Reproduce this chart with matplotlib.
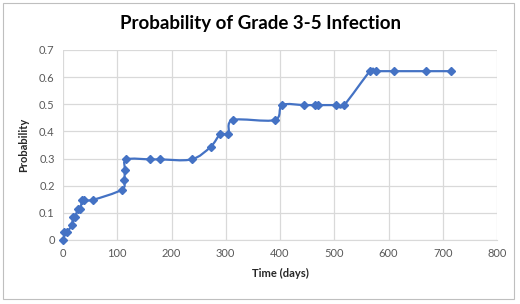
import numpy as np
import matplotlib.pyplot as plt
from matplotlib.path import Path
from matplotlib.patches import PathPatch, Rectangle

# data
days = [0, 2, 7, 16, 19, 23, 27, 32, 35, 38, 55, 108, 113, 114, 117,
        161, 179, 237, 272, 290, 305, 313, 390, 404, 444, 464, 470,
        504, 518, 566, 577, 610, 669, 716]
prob = [0.0, 0.028, 0.028, 0.055, 0.086, 0.086, 0.114, 0.114, 0.148, 0.148,
        0.148, 0.185, 0.221, 0.258, 0.297, 0.297, 0.297, 0.297, 0.343,
        0.39, 0.39, 0.442, 0.442, 0.497, 0.497, 0.497, 0.497, 0.497,
        0.497, 0.622, 0.622, 0.622, 0.622, 0.622]
x_ticks = [0, 100, 200, 300, 400, 500, 600, 700, 800]
y_ticks = [0, 0.1, 0.2, 0.3, 0.4, 0.5, 0.6, 0.7]
y_labels = ['0', '0.1', '0.2', '0.3', '0.4', '0.5', '0.6', '0.7']

blue = '#4472C4'
grid = '#D9D9D9'
text_col = '#595959'
plt.rcParams['font.family'] = ['Lato', 'DejaVu Sans']


def smooth_path(x, y):
    # Excel style smoothed line: cubic bezier segments through every point
    x = np.asarray(x, float)
    y = np.asarray(y, float)
    n = len(x)
    verts = [(x[0], y[0])]
    codes = [Path.MOVETO]
    for i in range(n - 1):
        p0 = np.array([x[max(i - 1, 0)], y[max(i - 1, 0)]])
        p1 = np.array([x[i], y[i]])
        p2 = np.array([x[i + 1], y[i + 1]])
        p3 = np.array([x[min(i + 2, n - 1)], y[min(i + 2, n - 1)]])
        c1 = p1 + (p2 - p0) / 6
        c2 = p2 - (p3 - p1) / 6
        verts += [tuple(c1), tuple(c2), tuple(p2)]
        codes += [Path.CURVE4] * 3
    return Path(verts, codes)


fig = plt.figure(figsize=(5.2, 3.04), dpi=100)
ax = fig.add_axes([63 / 520, 1 - 240 / 304, 434 / 520, 190 / 304])

ax.add_patch(PathPatch(smooth_path(days, prob), fill=False,
                       edgecolor=blue, linewidth=1.6, zorder=3))
ax.plot(days, prob, linestyle='none', marker='D', markersize=3.8,
        color=blue, zorder=4, clip_on=False)

ax.set_xlim(0, 800)
ax.set_ylim(0, 0.7)
ax.set_xticks(x_ticks)
ax.set_yticks(y_ticks)
ax.set_yticklabels(y_labels)
ax.grid(True, color=grid, linewidth=0.9)
ax.set_axisbelow(True)
for side in ['top', 'right', 'left']:
    ax.spines[side].set_visible(False)
ax.spines['bottom'].set_color(grid)
ax.tick_params(length=0, labelsize=8, labelcolor=text_col, pad=6)

ax.set_xlabel('Time (days)', fontsize=8, fontweight='bold', color='#262626', labelpad=6)
ax.set_ylabel('Probability', fontsize=8, fontweight='bold', color='#262626', labelpad=7)
fig.text(0.5, 1 - 23 / 304, 'Probability of Grade 3-5 Infection', ha='center',
         va='center', fontsize=13.5, fontweight='bold', color='black')

# chart area border
fig.patches.append(Rectangle((3 / 520, 5 / 304), 511 / 520, 296 / 304,
                             transform=fig.transFigure, fill=False,
                             edgecolor='#BFBFBF', linewidth=0.8))

fig.savefig('out.png', dpi=100)
